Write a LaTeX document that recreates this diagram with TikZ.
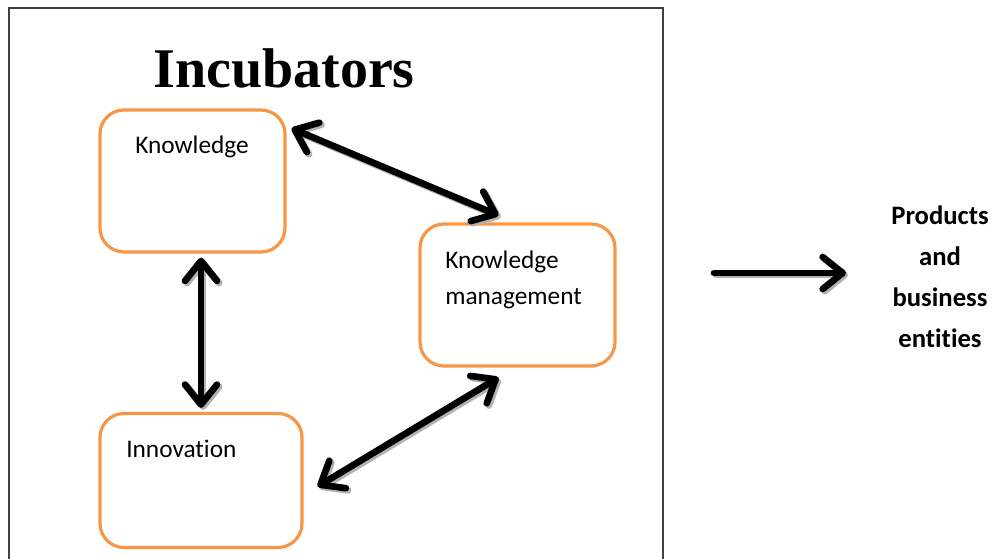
\documentclass[tikz,border=0pt]{standalone}
\usepackage{fontspec}
\setmainfont{Carlito}[Ligatures={NoCommon}]
\newfontfamily\titlefont{Liberation Serif}
\usetikzlibrary{arrows.meta,calc}
\definecolor{boxorange}{HTML}{F79646}
\definecolor{framegray}{HTML}{404040}
\tikzset{
  stagebox/.style={draw=boxorange, line width=2.4pt, rounded corners=18pt, fill=white, inner sep=0pt},
  boxtext/.style={font=\fontsize{19}{23}\selectfont, anchor=base west, inner sep=0pt, align=left},
  barb/.tip={Straight Barb[length=15pt,width=24pt,line cap=round,line join=round]},
  thickline/.style={line width=5pt, line cap=round, line join=round},
  twoway/.style={thickline, {barb}-{barb}},
  oneway/.style={thickline, -{barb}},
  shadowed/.style={draw=black!30},
}
\newcommand{\connectors}{%
  \draw[twoway] ([shift={(5,20)}]k.north east) -- ([shift={(-19,-7)}]km.north);
  \draw[twoway] ([shift={(0,4)}]inn.north |- k.south) -- ([shift={(0,-4)}]inn.north);
  \draw[twoway] ([shift={(-19,10)}]km.south) -- ([shift={(14,6)}]inn.east);
  \draw[oneway] (outstart) -- (outend);
}
\begin{document}
\begin{tikzpicture}[x=0.75pt, y=-0.75pt]
\useasboundingbox (0,0) rectangle (992,559);
\fill[white] (0,0) rectangle (992,559);
% outer frame
\draw[framegray, line width=1.6pt] (9,620) -- (9,8) -- (663,8) -- (663,620);
% title
\node[font=\titlefont\bfseries\fontsize{42}{42}\selectfont, anchor=base, inner sep=0pt] (title) at (284,88) {Incubators};
% boxes
\node[stagebox, minimum width=138.75pt, minimum height=106.5pt] (k) at (192.5,181) {};
\node[stagebox, minimum width=146.25pt, minimum height=106.5pt] (km) at (517.5,295) {};
\node[stagebox, minimum width=151.5pt, minimum height=100.5pt] (inn) at (201,480.5) {};
% labels
\node[boxtext] (kt) at (135,154) {Knowledge};
\node[boxtext] (kmt) at (445,305) {Knowledge\\[4.5pt]management};
\node[boxtext] (innt) at (126,457) {Innovation};
\node[font=\bfseries\fontsize{20}{30.75}\selectfont, align=center, inner sep=0pt] (prod) at (940,277) {Products\\and\\business\\entities};
% connectors with soft shadow
\coordinate (outstart) at (714,273);
\coordinate (outend) at (846,273);
\begin{scope}[transform canvas={shift={(1.6pt,-1.6pt)}}, every path/.append style={black!30}]
  \connectors
\end{scope}
\connectors
\end{tikzpicture}
\end{document}
